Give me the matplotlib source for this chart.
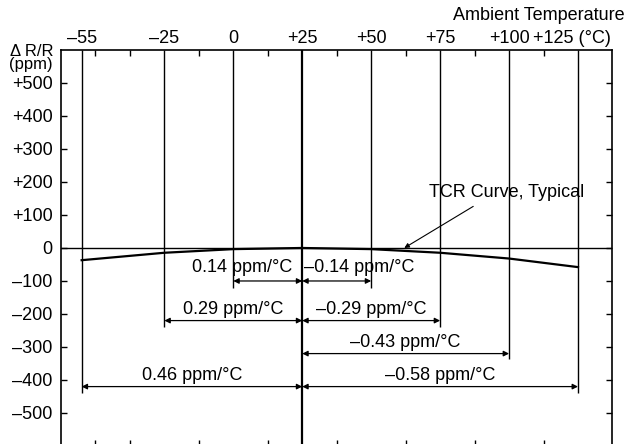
import numpy as np
import matplotlib
matplotlib.use("Agg")
import matplotlib.pyplot as plt

plt.rcParams["font.family"] = ["Liberation Sans", "DejaVu Sans"]

# -----------------------------
# DATA
# -----------------------------
temps = [-55, -25, 0, 25, 50, 75, 100, 125]
delta_ppm = [-37, -14.5, -3.5, 0, -3.5, -14.5, -32, -58]
temp_labels = ["–55", "–25", "0", "+25", "+50", "+75", "+100", ""]

line_bottoms = [-440, -240, -120, -600, -120, -240, -335, -440]

y_ticks = [500, 400, 300, 200, 100, 0, -100, -200, -300, -400, -500]
y_labels = ["+500", "+400", "+300", "+200", "+100", "0",
            "–100", "–200", "–300", "–400", "–500"]

# coefficient spans: (from temp, to temp, arrow level, label)
spans = [
    (0, 25, -100, "0.14 ppm/°C"),
    (25, 50, -100, "–0.14 ppm/°C"),
    (-25, 25, -220, "0.29 ppm/°C"),
    (25, 75, -220, "–0.29 ppm/°C"),
    (25, 100, -320, "–0.43 ppm/°C"),
    (-55, 25, -420, "0.46 ppm/°C"),
    (25, 125, -420, "–0.58 ppm/°C"),
]

FS = 13

# -----------------------------
# FIGURE
# -----------------------------
fig = plt.figure(figsize=(6.26, 4.44), dpi=100)
ax = fig.add_axes([0.0974, -0.0045, 0.881, 0.892])
ax.set_xlim(-62.5, 137.5)
ax.set_ylim(-600, 600)

for s in ["left", "right", "top"]:
    ax.spines[s].set_linewidth(1.2)
ax.spines["bottom"].set_visible(False)

# vertical temperature lines
lws = [1.6 if t == 25 else 1.0 for t in temps]
ax.vlines(temps, line_bottoms, 600, colors="black", linewidths=lws)
ax.axhline(0, color="black", lw=1.0)

# TCR curve
ax.plot(temps, delta_ppm, color="black", lw=1.6)

# double arrows + labels
for t0, t1, lev, lab in spans:
    ax.annotate("", xy=(t0, lev), xytext=(t1, lev),
                arrowprops=dict(arrowstyle="<|-|>", color="black", lw=0.9,
                                mutation_scale=8, shrinkA=0, shrinkB=0))
    if lab == "0.14 ppm/°C":
        ax.text(21.4, lev + 40, lab, ha="right", va="center", fontsize=FS)
    elif lab == "–0.14 ppm/°C":
        ax.text(25.8, lev + 40, lab, ha="left", va="center", fontsize=FS)
    else:
        cx = (t0 + t1) / 2
        ax.text(cx, lev + 33, lab, ha="center", va="center", fontsize=FS)

ax.text(99, 167, "TCR Curve, Typical", ha="center", va="center", fontsize=FS)
ax.annotate("", xy=(62, 0), xytext=(87, 126),
            arrowprops=dict(arrowstyle="-|>", color="black", lw=0.8,
                            mutation_scale=7, shrinkA=0, shrinkB=0))

# ticks
ax.xaxis.tick_top()
ax.set_xticks(temps)
ax.set_xticklabels(temp_labels, fontsize=FS)
ax.set_xticks(np.arange(-50, 126, 12.5), minor=True)
ax.tick_params(axis="x", which="major", length=0, pad=2)
ax.tick_params(axis="x", which="minor", direction="in", length=4.5,
               top=True, bottom=True, width=1)
ax.set_yticks(y_ticks)
ax.set_yticklabels(y_labels, fontsize=FS)
ax.tick_params(axis="y", direction="in", length=4.5, width=1,
               left=True, right=True, pad=6)

ax.text(108.7, 1.0065, "+125 (°C)", transform=ax.get_xaxis_transform(),
        ha="left", va="bottom", fontsize=FS)
fig.text(0.998, 1 - 15 / 444, "Ambient Temperature", ha="right",
         va="center", fontsize=FS)
fig.text(53 / 626, 1 - 58 / 444, "Δ R/R\n(ppm)", ha="right", va="center",
         fontsize=12, linespacing=0.85)

plt.savefig("out.png", dpi=100)
plt.close()
